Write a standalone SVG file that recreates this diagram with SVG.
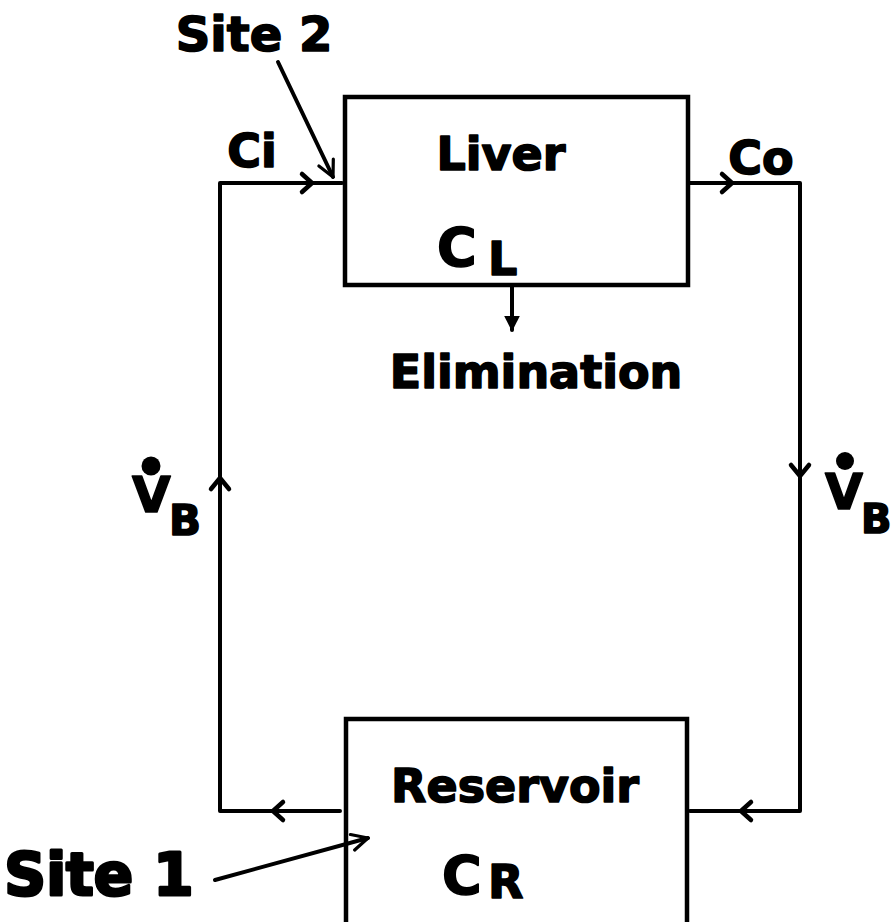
<svg xmlns="http://www.w3.org/2000/svg" width="893" height="922" viewBox="0 0 893 922">
<defs>
<style>
.t{font-family:"DejaVu Sans","Liberation Sans",sans-serif;font-weight:bold;fill:#000;stroke:#000;stroke-width:1.6;stroke-linejoin:round}
.ln{fill:none;stroke:#000;stroke-width:4;stroke-linecap:round;stroke-linejoin:round}
.ch{fill:none;stroke:#000;stroke-width:4.5;stroke-linecap:round;stroke-linejoin:round}
.box{fill:none;stroke:#000;stroke-width:4.5}
</style>
<marker id="fa" viewBox="0 0 10 10" refX="9" refY="5" markerWidth="4" markerHeight="4" orient="auto"><path d="M0,0 L10,5 L0,10 Z" fill="#000"/></marker>
<marker id="oa" viewBox="0 0 10 10" refX="9" refY="5" markerWidth="5" markerHeight="5" orient="auto"><path d="M1,1 L9,5 L1,9" fill="none" stroke="#000" stroke-width="1.6" stroke-linecap="round" stroke-linejoin="round"/></marker>
</defs>
<rect width="893" height="922" fill="#fff"/>
<g id="connectors">
<path class="ln" d="M342,183 L220,183 L220,811 L340,811"/>
<path class="ln" d="M690,183 L800,183 L800,811 L690,811"/>
<path class="ch" d="M302,174 L312,183 L302,192"/>
<path class="ch" d="M722,174 L732,183 L722,192"/>
<path class="ch" d="M211,489 L220,478 L229,489"/>
<path class="ch" d="M791,465 L800,476 L809,465"/>
<path class="ch" d="M283,802 L273,811 L283,820"/>
<path class="ch" d="M751,802 L741,811 L751,820"/>
<path class="ln" d="M512,287 L512,330" marker-end="url(#fa)"/>
<path class="ln" d="M278,62 L333,177" stroke-width="3.5" marker-end="url(#oa)"/>
<path class="ln" d="M215,880 L368,838" stroke-width="3.5" marker-end="url(#oa)"/>
</g>
<g id="liver">
<rect class="box" x="345" y="97" width="343" height="188"/>
<text class="t" x="501" y="170" font-size="46" text-anchor="middle">Liver</text>
<text class="t" x="437" y="266" font-size="54">C</text>
<text class="t" x="488" y="275" font-size="46">L</text>
</g>
<g id="reservoir">
<rect class="box" x="346" y="719" width="341" height="210"/>
<text class="t" x="515" y="802" font-size="46" text-anchor="middle">Reservoir</text>
<text class="t" x="442" y="894" font-size="54">C</text>
<text class="t" x="488" y="898" font-size="46">R</text>
</g>
<g id="elimination">
<text class="t" x="536" y="388" font-size="46" text-anchor="middle">Elimination</text>
</g>
<g id="labels">
<text class="t" x="254" y="51" font-size="48" text-anchor="middle">Site 2</text>
<text class="t" x="252" y="167" font-size="46" text-anchor="middle">Ci</text>
<text class="t" x="761" y="174" font-size="46" text-anchor="middle">Co</text>
<text class="t" x="99" y="895" font-size="58" text-anchor="middle" style="stroke-width:3">Site 1</text>
<circle cx="151" cy="466" r="9.5"/>
<text class="t" x="132" y="512" font-size="50">V</text>
<text class="t" x="169" y="535" font-size="42">B</text>
<circle cx="845" cy="461" r="9"/>
<text class="t" x="825" y="509" font-size="49">V</text>
<text class="t" x="861" y="533" font-size="40">B</text>
</g>
</svg>
